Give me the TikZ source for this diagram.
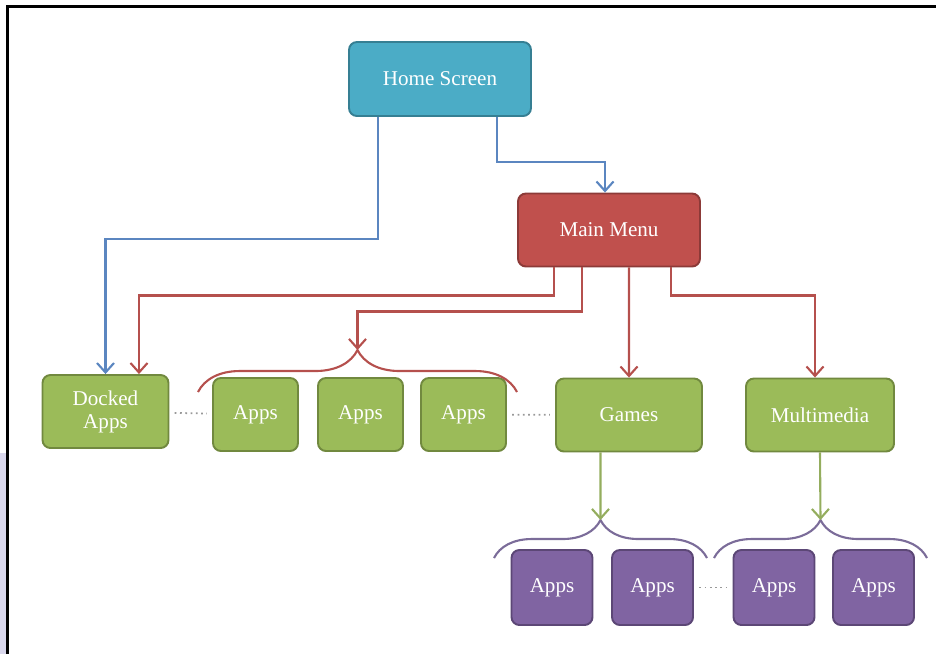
\documentclass[tikz,border=0pt]{standalone}
\usepackage{fontspec}
\setmainfont{Liberation Serif}
\usetikzlibrary{arrows.meta}
\usetikzlibrary{decorations.pathreplacing}

\definecolor{homefill}{HTML}{4BACC6}
\definecolor{homeline}{HTML}{367F93}
\definecolor{mainfill}{HTML}{C0504D}
\definecolor{mainline}{HTML}{8C3A38}
\definecolor{greenfill}{HTML}{9BBB59}
\definecolor{greenline}{HTML}{71893F}
\definecolor{purplefill}{HTML}{8064A2}
\definecolor{purpleline}{HTML}{5C4776}
\definecolor{bluelink}{HTML}{5B86C0}
\definecolor{redlink}{HTML}{B5504D}
\definecolor{greenlink}{HTML}{94AD5E}
\definecolor{bracepurple}{HTML}{7B6C99}
\definecolor{sidestrip}{HTML}{D9D7EC}

\tikzset{
    box/.style={draw, rounded corners=4.5pt, line width=1.1pt, text=white,
        font=\fontsize{12}{13}\selectfont, align=center, inner sep=0pt},
    homebox/.style={box, fill=homefill, draw=homeline,
        minimum width=3.64cm, minimum height=1.48cm},
    mainbox/.style={box, fill=mainfill, draw=mainline,
        minimum width=3.64cm, minimum height=1.46cm},
    greenbox/.style={box, fill=greenfill, draw=greenline, minimum height=1.46cm},
    purplebox/.style={box, fill=purplefill, draw=purpleline,
        minimum width=1.62cm, minimum height=1.5cm},
    link/.style={line width=1.2pt, -{Straight Barb[length=1.9mm,width=3.4mm]}},
    dots/.style={dotted, line width=1pt, gray!80, shorten <=3pt, shorten >=3pt},
    grp/.style={decorate, line width=1.2pt, decoration={brace, amplitude=#1}}
}

\begin{document}
\begin{tikzpicture}[x=0.02cm, y=-0.02cm]
        \useasboundingbox (0,0) rectangle (936,654);
        % frame of the screenshot
        \fill[sidestrip] (0,453) rectangle (6.5,654);
        \draw[line width=1.7pt] (7.5,654) -- (7.5,6.5) -- (936,6.5);

        \node[homebox] (home) at (440,79) {Home Screen};
        \node[mainbox] (main) at (609,230) {Main Menu};

        \node[greenbox, minimum width=2.52cm] (docked) at (105.5,411.5) {Docked\\Apps};
        \foreach \n/\x in {a1/255.5, a2/360.5, a3/463.5}
            \node[greenbox, minimum width=1.7cm] (\n) at (\x,414.5) {Apps};
        \node[greenbox, minimum width=2.92cm] (games) at (629,415) {Games};
        \node[greenbox, minimum width=2.96cm] (multi) at (820,415) {Multimedia};

        \foreach \n/\x in {p1/552, p2/652.5, p3/774, p4/873.5}
            \node[purplebox] (\n) at (\x,587.5) {Apps};

        % braces over the groups
        \draw[grp=0.84cm, redlink] (198,392) -- (517,392);
        \draw[grp=0.76cm, bracepurple] (494,558) -- (707,558);
        \draw[grp=0.76cm, bracepurple] (714,558) -- (927,558);
        \coordinate (apptip) at (357.5,350);
        \coordinate (gametip) at (600.5,520);
        \coordinate (multitip) at (820.5,520);

        % home screen
        \draw[link, bluelink] ([xshift=-1.24cm]home.south) -- ++(0,122) -| (docked.north);
        \draw[link, bluelink] ([xshift=1.14cm]home.south) -- ++(0,45) -| ([xshift=-0.08cm]main.north);

        % main menu
        \draw[link, redlink] ([xshift=-1.1cm]main.south) -- ++(0,28) -| ([xshift=0.67cm]docked.north);
        \draw[link, redlink] ([xshift=-0.54cm]main.south) -- ++(0,44) -| (apptip);
        \draw[link, redlink] ([xshift=0.4cm]main.south) -- (games.north);
        \draw[link, redlink] ([xshift=1.24cm]main.south) -- ++(0,28) -| ([xshift=-0.1cm]multi.north);

        % categories
        \draw[link, greenlink] ([xshift=-0.57cm]games.south) -- (gametip);
        \draw[link, greenlink] (multi.south) -- (multitip);

        \draw[dots] (docked) -- (a1);
        \draw[dots] (a3) -- (games);
        \draw[dots] (p2) -- (p3);
    \end{tikzpicture}
\end{document}
